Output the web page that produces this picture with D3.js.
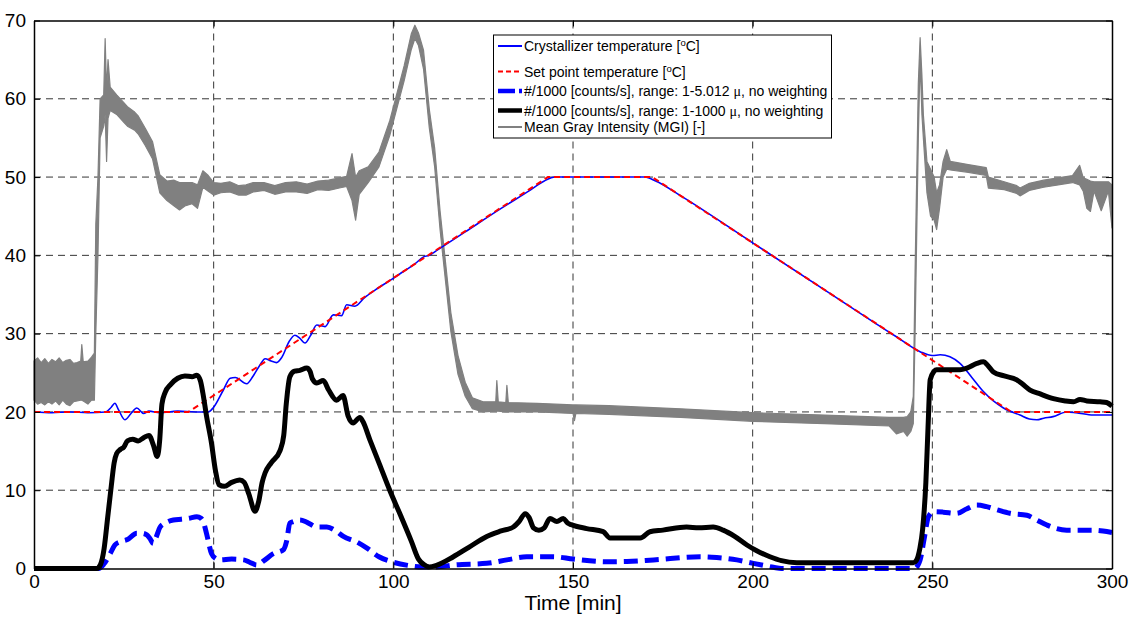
<!DOCTYPE html>
<html>
<head>
<meta charset="utf-8">
<script src="https://d3js.org/d3.v7.min.js"></script>
<style>
  body { margin: 0; background: #fff; }
  text { font-family: "Liberation Sans", Arial, sans-serif; }
</style>
</head>
<body>
<svg width="1135" height="617"></svg>
<script>
// ---- data ----
const xTicks = [0, 50, 100, 150, 200, 250, 300]
const yTicks = [0, 10, 20, 30, 40, 50, 60, 70]

// crystallizer temperature [t, degC]
const crystTemp = [[0,20],[5,19.9],[10,20],[15,19.9],[20,20],[21.5,20.6],[22.5,21.1],[23.5,20.3],[25.3,19.0],[27,19.8],
  [28.6,20.5],[30.5,19.8],[32,20.1],[35,19.9],[40,20.1],[45,20.0],[48.5,20.0],[50,20.6],[52.7,22.8],[54.6,24.3],
  [56,24.4],[59.2,23.6],[61,24.6],[62.9,26.0],[64.3,26.8],[66,26.5],[67.5,26.3],[69,27],[71,29],[72.6,29.8],
  [74,29.4],[75.4,28.8],[77,29.8],[78.7,31.1],[81,30.9],[83.3,32.4],[85.6,32.3],[87,33.7],[89.3,33.5],[92,34.6],
  [95,35.6],[99.1,36.8],[103,38.0],[106,38.9],[108.4,39.8],[110,40.0],[112,40.6],[120,43.0],[130,46.0],[138,48.3],
  [142,49.5],[145,50],[170,50],[173,49.5],[180,47.6],[200,41.6],[220,35.6],[240,29.6],[246.6,27.7],[250,27.2],
  [252.2,27.3],[254.9,27.05],[257.7,26.2],[261,24.4],[264.2,22.6],[267,21.4],[269.8,20.5],[274.4,19.6],[277,19.1],
  [279.1,19.0],[281,19.2],[283.6,19.4],[287.4,20.0],[290,19.9],[294.8,19.6],[300,19.6]]

// set point temperature
const setPoint = [[0,20],[43,20],[143,50],[172,50],[272,20],[300,20]]

// #/1000 counts/s, range 1-5.012 mu
const countsSmall = [[0,0],[18,0],[19.5,0.6],[21.2,1.9],[22.5,3.0],[23.9,3.4],[26,3.7],[28.6,4.5],[30,4.5],[31.4,4.3],
  [32.3,3.8],[33.2,3.2],[34,4.0],[35.1,5.3],[36.5,5.8],[38.8,6.2],[41,6.3],[43,6.4],[45.3,6.6],[46.5,6.4],[47.1,6.0],
  [48,4.5],[49.4,1.9],[50.5,1.3],[51.8,1.1],[55,1.2],[58.3,1.1],[60,0.8],[62,0.45],[64,1.0],[66.6,1.9],[69.4,2.4],
  [70.3,3.5],[71.2,5.8],[72.2,6.0],[74,6.2],[76,5.9],[78.7,5.3],[81.5,5.3],[84,4.8],[86.1,4.1],[89.8,3.4],[93,2.5],
  [96,1.5],[100,0.8],[104,0.4],[108,0.2],[112,0.2],[116.7,0.45],[126,0.66],[131.6,1.1],[137.1,1.5],[144.5,1.5],
  [150.1,1.2],[159.4,0.87],[165,0.9],[172.4,1.1],[185.4,1.5],[190,1.4],[195.6,1.1],[200.2,0.66],[203,0.4],
  [205.8,0.15],[208,0],[245,0],[246.6,1.1],[247.8,4],[248.9,6.6],[250.3,7.25],[253,7.2],[256.8,7.05],[259.5,7.6],
  [262.4,8.1],[265.1,7.9],[268,7.5],[271.6,7.05],[276.3,6.8],[279,6.2],[281.9,5.55],[284.5,5.1],[287.4,4.9],
  [294.8,4.9],[297.5,4.8],[300,4.6]]

// #/1000 counts/s, range 1-1000 mu
const countsAll = [[0,0],[17.5,0],[18.5,0.5],[19.5,2.5],[20.5,6.5],[21.5,10.5],[22.3,13.5],[23,14.7],[24,15.2],[25,15.5],
  [26,16.3],[27.5,16.5],[29,16.3],[30.5,16.7],[32,17],[33.2,15.8],[34.3,14.3],[35,16.5],[35.6,21],[36.5,22.5],[38,23.5],
  [40,24.3],[42,24.6],[44,24.5],[45.3,24.7],[46.3,24.0],[47,22.4],[48,19.5],[49.4,16],[50.5,12.5],[51.5,10.7],[53,10.5],
  [55,11],[57.3,11.3],[58.5,11],[59.8,9.5],[61.5,7.3],[62.5,8.5],[63.5,11],[64.3,12.2],[66,13.5],[68.5,15.1],[69.5,17],
  [70.2,21],[71.2,24.5],[72.5,25.2],[74,25.3],[75.9,25.6],[76.8,25.2],[77.5,24.2],[78.7,23.7],[80.5,24],[82,22.8],
  [84.2,21.5],[86,22.1],[87.4,19.5],[88.8,18.6],[90.7,19.3],[91.5,18.8],[93.5,16.4],[96,13.5],[99,10],[102,6.8],
  [105,3.5],[107,1.2],[108.5,0.5],[110,0.2],[112,0.4],[116.7,1.5],[121,2.7],[126,4.1],[130,4.8],[133.4,5.3],[135,6],
  [136.7,7.0],[137.8,6.5],[139,5.2],[140.5,4.9],[142,5.2],[143.6,6.4],[145.5,6.0],[147.3,6.4],[148.5,5.8],[149.5,5.6],
  [153.8,5.1],[158.4,4.7],[160.3,3.9],[168.7,3.9],[171.4,4.7],[175,4.9],[181.6,5.3],[185,5.2],[189,5.3],[191.8,4.9],
  [195,4.1],[198.4,3.0],[201,2.3],[204.8,1.5],[208,1.0],[212.3,0.75],[244.7,0.75],[245.5,1],[246.5,2.5],[247.3,5],
  [248.2,11],[248.8,18],[249.4,24.1],[250.5,25.2],[251.2,25.4],[257.7,25.4],[259.6,25.6],[262.4,26.2],[264.2,26.4],
  [265.5,25.9],[267,25.1],[270,24.6],[273.5,24.1],[275,23.6],[277.2,22.8],[280,22.3],[283.7,21.7],[287,21.4],
  [289.3,21.3],[291.1,21.6],[293,21.4],[296.7,21.3],[298.5,21.2],[300,20.75]]

// mean gray intensity, noisy: [t, low envelope, high envelope]
const mgi = [[0,21.5,26.5],[1,21.0,26.9],[2,21.2,26.3],[3,20.9,26.8],[4,21.3,26.2],[5,21.0,26.7],[6,21.4,26.4],
  [7,20.9,26.9],[8,21.5,26.3],[9,21.0,26.6],[10,20.8,26.7],[11,21.3,26.2],[12,21.4,26.3],[13,21.5,26.5],[13.3,21.5,28.6],
  [13.7,21.4,26.4],[15,21.0,26.5],[16,21.5,27.0],[16.8,21.5,27.5],[17.2,30,44],[17.8,40,50],[18.4,55,60],[19.4,56.5,60.5],
  [19.8,58,67.7],[20.2,52,61],[20.6,57.5,65],[21.2,58.5,61.5],[23,58,60.5],[25,57,59.5],[26,56.5,59],[28,56,58.3],
  [29,55.5,57.8],[31,54,56.2],[33,52.3,54.5],[35,48,50.3],[37,47,49.5],[39,46.3,49.6],[40.5,45.8,49.3],[42,46.3,49.3],
  [44,46.6,49.3],[45.5,46,49.0],[47,48.7,50.8],[48.5,48.2,50.2],[50,47.7,49.3],[52,48,49.2],[54.5,48.1,49.4],
  [57,47.7,48.9],[59,47.7,49.0],[61,48.1,49.3],[64,48.3,49.3],[67,47.8,48.9],[70,48.1,49.3],[73,48.1,49.4],[76,47.9,49.1],
  [79,48.4,49.5],[82,48.3,49.6],[85,48.6,49.9],[87,48.8,50.1],[88.5,47,53],[89.5,44.5,50],[90.5,47.8,50.8],[93,49.3,51.3],
  [96,51.3,53.2],[99,55.3,57.2],[101,58.8,60.7],[103,62.3,64.2],[105,66.3,68.3],[106,67.7,69.4],[107,66.8,68.4],[108.4,63.8,66.2],
  [110,56.3,58.7],[111.5,51.3,53.7],[113,43.3,45.7],[114.5,36.8,39.2],[116,30.3,32.7],[118,24.8,27.2],[120,22,23.8],[122,20.4,21.8],
  [125,20,21.3],[128.5,20.1,21.3],[128.8,20.1,24],[129.2,20.1,21.3],[131.3,20,21.2],[131.6,20,23.4],[132,20,21.2],
  [140,20,21.1],[150,19.8,20.9],[150.4,18.9,20.9],[150.8,19.8,20.9],[160,19.7,20.8],[180,19.3,20.4],[200,18.8,19.9],
  [220,18.5,19.6],[238,18.2,19.3],[240,17.2,19.3],[242,17.5,19.3],[243,16.9,19.4],[244,17.5,20],[244.7,18.5,22],
  [245.2,30,38],[246.1,55,62],[246.6,65,67.8],[247.1,58,63],[247.5,55,58],[248.5,48,52],[249.5,45,51],[250.5,44.5,50],
  [251.2,43.3,48],[252,46,49],[253,50,52],[254,51,53.5],[255,50.9,52],[260,50.6,51.6],[265,50.2,51.2],[265.6,48.6,50],
  [270,48.4,49.4],[273.5,47.9,48.9],[274.4,47.6,48.6],[277,48.3,49.2],[281,48.7,49.6],[285,49,49.9],[289,49.3,50.2],
  [291,49,51.5],[292,48.2,49.9],[293,46,49.7],[294,45.6,49.5],[295,48.2,49.4],[297,45.7,49.4],[299,48.2,49.4],[300,43.5,49]]

const legendLabels = [
  "Crystallizer temperature [",
  "Set point temperature [",
  "#/1000 [counts/s], range: 1-5.012 ",
  "#/1000 [counts/s], range: 1-1000 ",
  "Mean Gray Intensity (MGI) [-]"
]

// ---- chart ----
const svg = d3.select("svg")
const margin = {top: 20.5, right: 23, bottom: 48.5, left: 34}
const width = 1135, height = 617

const x = d3.scaleLinear().domain([0, 300]).range([margin.left, width - margin.right])
const y = d3.scaleLinear().domain([0, 70]).range([height - margin.bottom, margin.top])

// grid
const grid = svg.append("g")
  .attr("stroke", "#000")
  .attr("stroke-width", 0.8)
  .attr("stroke-dasharray", "7,5")
grid.selectAll(".gx")
  .data(xTicks.slice(1, -1))
  .join("line")
    .attr("x1", d => x(d)).attr("x2", d => x(d))
    .attr("y1", y(0)).attr("y2", y(70))
grid.selectAll(".gy")
  .data(yTicks.slice(1, -1))
  .join("line")
    .attr("y1", d => y(d)).attr("y2", d => y(d))
    .attr("x1", x(0)).attr("x2", x(300))

const line = d3.line().x(d => x(d[0])).y(d => y(d[1]))
const smooth = d3.line().x(d => x(d[0])).y(d => y(d[1])).curve(d3.curveMonotoneX)

// MGI band
svg.append("path")
  .datum(mgi)
  .attr("fill", "#808080")
  .attr("stroke", "#808080")
  .attr("stroke-width", 1.2)
  .attr("stroke-linejoin", "round")
  .attr("d", d3.area().x(d => x(d[0])).y0(d => y(d[1])).y1(d => y(d[2])))

svg.append("path")
  .datum(crystTemp)
  .attr("fill", "none")
  .attr("stroke", "#0000ff")
  .attr("stroke-width", 1.6)
  .attr("d", smooth)

svg.append("path")
  .datum(setPoint)
  .attr("fill", "none")
  .attr("stroke", "#ff0000")
  .attr("stroke-width", 2)
  .attr("stroke-dasharray", "6,4")
  .attr("d", line)

svg.append("path")
  .datum(countsSmall)
  .attr("fill", "none")
  .attr("stroke", "#0000ff")
  .attr("stroke-width", 5)
  .attr("stroke-dasharray", "14,7")
  .attr("d", smooth)

svg.append("path")
  .datum(countsAll)
  .attr("fill", "none")
  .attr("stroke", "#000")
  .attr("stroke-width", 5)
  .attr("stroke-linejoin", "round")
  .attr("d", smooth)

// axes, ticks pointing inward like matlab
const fontSize = 19
svg.append("g")
  .attr("transform", `translate(0,${y(0)})`)
  .call(d3.axisBottom(x).tickValues(xTicks).tickSize(-6).tickPadding(6).tickSizeOuter(0))
svg.append("g")
  .attr("transform", `translate(${x(0)},0)`)
  .call(d3.axisLeft(y).tickValues(yTicks).tickSize(-6).tickPadding(8).tickSizeOuter(0))
svg.append("g")
  .attr("transform", `translate(0,${y(70)})`)
  .call(d3.axisTop(x).tickValues(xTicks).tickSize(-6).tickFormat("").tickSizeOuter(0))
svg.append("g")
  .attr("transform", `translate(${x(300)},0)`)
  .call(d3.axisRight(y).tickValues(yTicks).tickSize(-6).tickFormat("").tickSizeOuter(0))
svg.selectAll(".domain").attr("stroke", "#000").attr("stroke-width", 1.5)
svg.selectAll(".tick line").attr("stroke", "#000")
svg.selectAll(".tick text")
  .attr("font-size", fontSize)
  .attr("font-family", "Liberation Sans, Arial, sans-serif")
  .attr("fill", "#000")

svg.append("text")
  .attr("x", (x(0) + x(300)) / 2)
  .attr("y", 610)
  .attr("text-anchor", "middle")
  .attr("font-size", 21)
  .text("Time [min]")

// legend
const lg = svg.append("g")
lg.append("rect")
  .attr("x", 493.5).attr("y", 35)
  .attr("width", 338).attr("height", 103)
  .attr("fill", "#fff").attr("stroke", "#000").attr("stroke-width", 1)

const rowsY = [46, 71.5, 91, 110.5, 127]
const samples = [
  {stroke: "#0000ff", w: 2, dash: null},
  {stroke: "#ff0000", w: 2, dash: "5,3"},
  {stroke: "#0000ff", w: 4.5, dash: "17,4"},
  {stroke: "#000", w: 4.5, dash: null},
  {stroke: "#808080", w: 2, dash: null}
]
samples.forEach((s, i) => {
  lg.append("line")
    .attr("x1", 498).attr("x2", 522)
    .attr("y1", rowsY[i]).attr("y2", rowsY[i])
    .attr("stroke", s.stroke).attr("stroke-width", s.w)
    .attr("stroke-dasharray", s.dash)
  const t = lg.append("text")
    .attr("x", 524).attr("y", rowsY[i] + 5)
    .attr("font-size", 14)
    .text(legendLabels[i])
  if (i < 2) {
    t.append("tspan").attr("dy", -5).attr("font-size", 9.5).text("o")
    t.append("tspan").attr("dy", 5).text("C]")
  } else if (i < 4) {
    t.append("tspan").attr("font-family", "Liberation Serif, serif").text("\u03bc")
    t.append("tspan").text(", no weighting")
  }
})
</script>
</body>
</html>
